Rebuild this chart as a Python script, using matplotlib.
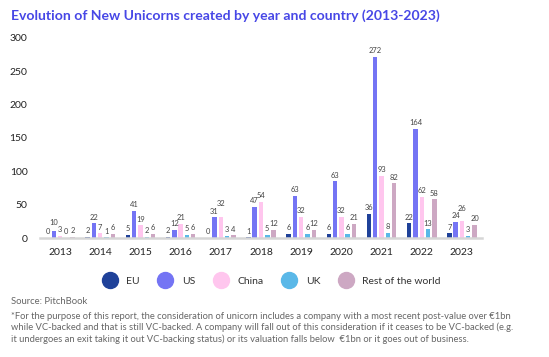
import matplotlib
matplotlib.use("Agg")
import matplotlib.pyplot as plt
from matplotlib.lines import Line2D
import numpy as np

plt.rcParams["font.family"] = ["Lato", "DejaVu Sans"]

years = ["2013", "2014", "2015", "2016", "2017", "2018", "2019", "2020", "2021", "2022", "2023"]
series = ["EU", "US", "China", "UK", "Rest of the world"]
eu = [0, 2, 5, 2, 0, 1, 6, 6, 36, 22, 7]
us = [10, 22, 41, 12, 31, 47, 63, 85, 272, 164, 24]
china = [3, 7, 19, 21, 32, 54, 32, 32, 93, 62, 26]
uk = [0, 1, 2, 5, 3, 5, 6, 6, 8, 13, 3]
rest = [2, 6, 6, 6, 4, 12, 12, 21, 82, 58, 20]
# labels as printed on the chart (2020 US bar is labelled 63)
us_labels = ["10", "22", "41", "12", "31", "47", "63", "63", "272", "164", "24"]

colors = ["#1f4199", "#7474f4", "#ffc6ee", "#5ab8e8", "#cda8c3"]
values = [eu, us, china, uk, rest]
labels = [[str(v) for v in eu], us_labels, [str(v) for v in china],
          [str(v) for v in uk], [str(v) for v in rest]]
# raise a few labels so neighbours don't collide (series index, year index) -> points
nudge = {(2, 4): 5, (2, 10): 4.5, (1, 0): 2}

fig = plt.figure(figsize=(5.49, 3.57), dpi=100)
ax = fig.add_axes([40 / 549, 1 - 238 / 357, 442 / 549, 200 / 357])

x = np.arange(len(years))
step = 0.157
width = 0.11
for i, (vals, col, labs) in enumerate(zip(values, colors, labels)):
    pos = x + (i - 2) * step
    ax.bar(pos, vals, width=width, color=col, zorder=2)
    for j, (p, v, t) in enumerate(zip(pos, vals, labs)):
        ax.annotate(t, (p, v), xytext=(0, 2 + nudge.get((i, j), 0)),
                    textcoords="offset points", ha="center", va="bottom",
                    fontsize=5.4, color="#444444")

ax.set_xlim(-0.5, 10.5)
ax.set_ylim(0, 300)
ax.set_yticks(range(0, 301, 50))
ax.set_xticks(x)
ax.set_xticklabels(years, fontsize=7.5, color="#222222")
ax.tick_params(axis="y", length=0, pad=9, labelsize=7.5, labelcolor="#222222")
ax.tick_params(axis="x", length=0, pad=7)
for s in ["top", "right", "left"]:
    ax.spines[s].set_visible(False)
ax.spines["bottom"].set_color("#d6d6d6")
ax.spines["bottom"].set_linewidth(1.8)

fig.text(11 / 549, 1 - 16 / 357, "Evolution of New Unicorns created by year and country (2013-2023)",
         fontsize=10.1, fontweight="bold", color="#4747e6", va="center", ha="left")

handles = [Line2D([], [], marker="o", linestyle="none", markersize=11.5,
                  markerfacecolor=c, markeredgecolor=c) for c in colors]
fig.legend(handles, series, loc="center", bbox_to_anchor=(270 / 549, 1 - 281 / 357),
           ncol=5, frameon=False, fontsize=7.5, handletextpad=0.6,
           columnspacing=1.45, labelcolor="#333333")

fig.text(11 / 549, 1 - 302 / 357, "Source: PitchBook", fontsize=6.8,
         color="#666666", va="center")
foot = ("*For the purpose of this report, the consideration of unicorn includes a company with a most recent post-value over \u20ac1bn\n"
        "while VC-backed and that is still VC-backed. A company will fall out of this consideration if it ceases to be VC-backed (e.g.\n"
        "it undergoes an exit taking it out VC-backing status) or its valuation falls below  \u20ac1bn or it goes out of business.")
fig.text(11 / 549, 1 - 312 / 357, foot, fontsize=6.75, color="#666666",
         va="top", linespacing=1.25)

fig.savefig("out.png", dpi=100)
